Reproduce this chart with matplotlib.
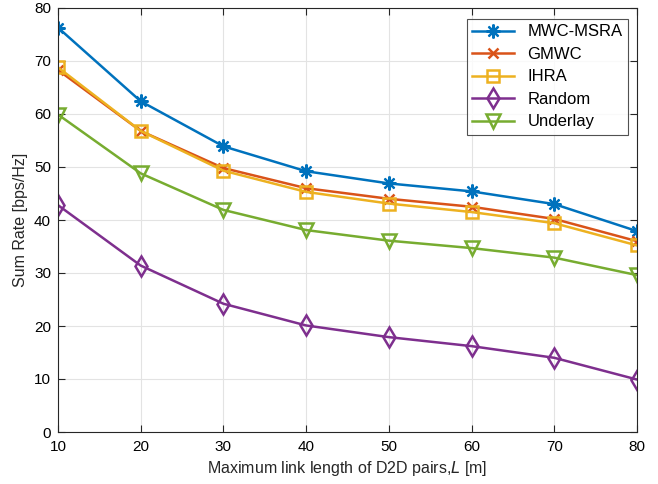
import matplotlib.pyplot as plt
import numpy as np

plt.rcParams['font.family'] = ['Liberation Sans', 'DejaVu Sans']

link_len = [10, 20, 30, 40, 50, 60, 70, 80]
mwc_msra = [76.3, 62.4, 53.9, 49.2, 46.9, 45.4, 43.0, 37.9]
gmwc = [68.3, 56.8, 49.8, 46.0, 44.0, 42.5, 40.2, 36.0]
ihra = [68.8, 56.8, 49.3, 45.3, 43.1, 41.5, 39.4, 35.2]
random_ = [42.8, 31.4, 24.2, 20.1, 17.9, 16.2, 14.0, 9.9]
underlay = [59.9, 48.8, 41.9, 38.1, 36.1, 34.7, 32.9, 29.6]

fig = plt.figure(figsize=(6.58, 4.84), dpi=100)
ax = fig.add_axes([58/658, 52/484, 579/658, 424/484])

ax.plot(link_len, mwc_msra, color='#0072BD', marker=(8, 2, 0), markersize=10, mew=1.6, lw=1.8, label='MWC-MSRA')
ax.plot(link_len, gmwc, color='#D95319', marker='x', markersize=7, mew=1.8, lw=1.8, label='GMWC')
ax.plot(link_len, ihra, color='#EDB120', marker='s', markersize=8, mfc='none', mew=1.8, lw=1.8, label='IHRA')
ax.plot(link_len, random_, color='#7E2F8E', marker='d', markersize=10, mfc='none', mew=1.8, lw=1.8, label='Random')
ax.plot(link_len, underlay, color='#77AC30', marker='v', markersize=10, mfc='none', mew=1.8, lw=1.8, label='Underlay')

ax.set_xlim(10, 80)
ax.set_ylim(0, 80)
ax.set_xticks(np.arange(10, 81, 10))
ax.set_yticks(np.arange(0, 81, 10))
ax.grid(True, color='#e3e3e3', lw=0.8)
ax.tick_params(direction='in', top=True, right=True, labelsize=11, color='#262626', length=5)
ax.tick_params(axis='x', pad=6)
ax.tick_params(axis='y', pad=5)
for s in ax.spines.values():
    s.set_color('#262626')
    s.set_linewidth(0.8)

ax.set_xlabel('Maximum link length of D2D pairs,$\\it{L}$ [m]', fontsize=11.5, color='#262626', labelpad=3)
ax.set_ylabel('Sum Rate [bps/Hz]', fontsize=11.5, color='#262626')
leg = ax.legend(loc='upper right', fontsize=12, fancybox=False, edgecolor='#262626',
                bbox_to_anchor=(0.985, 0.975), borderaxespad=0, handlelength=2.5,
                labelspacing=0.45, borderpad=0.35)
leg.get_frame().set_linewidth(0.8)

fig.savefig('out.png', dpi=100)
